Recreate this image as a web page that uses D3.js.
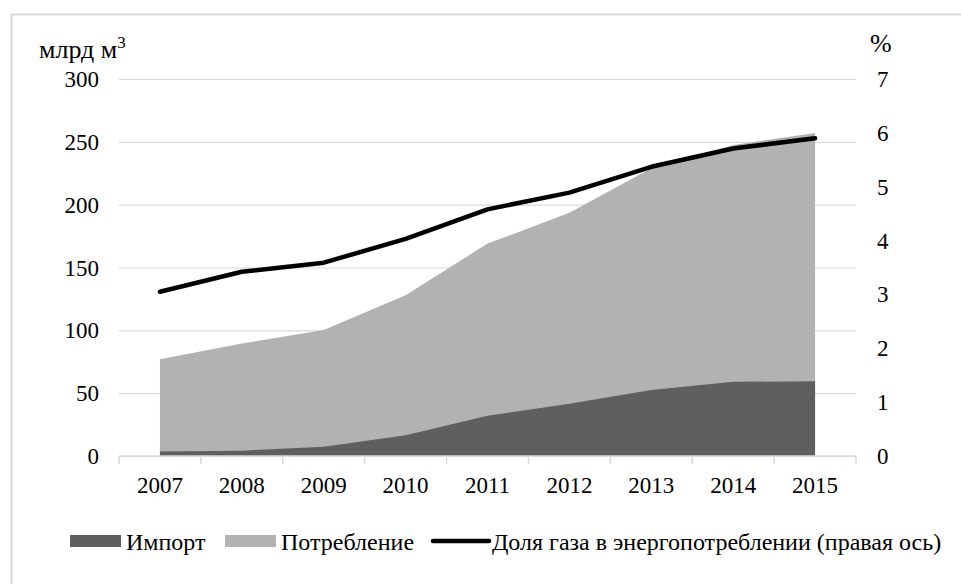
<!DOCTYPE html>
<html>
<head>
<meta charset="utf-8">
<script src="https://cdn.jsdelivr.net/npm/d3@7"></script>
<style>
  body { margin: 0; background: #fff; }
  .grid line { stroke: #d9d9d9; stroke-width: 1.2; }
  .grid path { display: none; }
</style>
</head>
<body>
<svg></svg>
<script>
var years = ["2007", "2008", "2009", "2010", "2011", "2012", "2013", "2014", "2015"];
var importVals = [3.5, 4.2, 7.4, 16.5, 32, 41.5, 52.5, 59, 59.5];
var consumption = [77, 89.5, 100.3, 128, 169, 193.5, 229, 247.5, 257];
var gasShare = [3.05, 3.42, 3.59, 4.03, 4.58, 4.89, 5.37, 5.71, 5.9];
var leftTicks = [0, 50, 100, 150, 200, 250, 300];
var rightTicks = [0, 1, 2, 3, 4, 5, 6, 7];
var legendLabels = ["Импорт", "Потребление", "Доля газа в энергопотреблении (правая ось)"];

(function () {
  var width = 961, height = 584;
  var margin = {top: 79, right: 105, bottom: 128, left: 119};
  var plot_width = width - margin.left - margin.right;
  var plot_height = height - margin.top - margin.bottom;
  var font = "'Liberation Serif', 'Times New Roman', Times, serif";

  var svg = d3.select("svg")
    .attr("width", width).attr("height", height)
    .attr("font-family", font)
    .attr("font-size", 23)
    .attr("fill", "#000");

  // outer frame (right and bottom edges fall outside the picture)
  svg.append("rect")
    .attr("x", 11.5).attr("y", 14.5)
    .attr("width", 970).attr("height", 600)
    .attr("fill", "none")
    .attr("stroke", "#d9d9d9")
    .attr("stroke-width", 2);

  var g = svg.append("g").attr("transform", "translate(" + margin.left + "," + margin.top + ")");

  var x = d3.scaleBand().domain(years).range([0, plot_width]);
  var y = d3.scaleLinear().domain([0, 300]).range([plot_height, 0]);
  var y2 = d3.scaleLinear().domain([0, 7]).range([plot_height, 0]);
  var cx = function (d, i) { return x(years[i]) + x.bandwidth() / 2; };

  // gridlines
  g.append("g")
    .attr("class", "grid")
    .call(d3.axisLeft(y).tickValues(leftTicks).tickSize(-plot_width).tickFormat(""));

  var area = d3.area()
    .x(cx)
    .y0(plot_height)
    .y1(function (d) { return y(d); });

  g.append("path")
    .datum(consumption)
    .attr("fill", "#b2b2b2")
    .attr("d", area);

  g.append("path")
    .datum(importVals)
    .attr("fill", "#5f5f5f")
    .attr("d", area);

  var line = d3.line()
    .x(cx)
    .y(function (d) { return y2(d); });

  g.append("path")
    .datum(gasShare)
    .attr("fill", "none")
    .attr("stroke", "#000")
    .attr("stroke-width", 4.5)
    .attr("stroke-linejoin", "round")
    .attr("stroke-linecap", "round")
    .attr("d", line);

  // x axis: baseline plus ticks at category boundaries
  var xAxis = g.append("g").attr("transform", "translate(0," + plot_height + ")");
  xAxis.append("line")
    .attr("x1", 0).attr("x2", plot_width)
    .attr("stroke", "#d9d9d9").attr("stroke-width", 1.5);
  xAxis.selectAll(".tk")
    .data(years.concat(["end"]))
    .enter().append("line")
    .attr("x1", function (d, i) { return i * x.step(); })
    .attr("x2", function (d, i) { return i * x.step(); })
    .attr("y1", 0).attr("y2", 8)
    .attr("stroke", "#d9d9d9").attr("stroke-width", 1.5);
  xAxis.selectAll(".lbl")
    .data(years)
    .enter().append("text")
    .attr("x", cx)
    .attr("y", 37)
    .attr("text-anchor", "middle")
    .text(function (d) { return d; });

  // left axis labels
  g.append("g")
    .selectAll("text")
    .data(leftTicks)
    .enter().append("text")
    .attr("x", -20)
    .attr("y", function (d) { return y(d); })
    .attr("dy", "0.35em")
    .attr("text-anchor", "end")
    .text(function (d) { return d; });

  // right axis labels
  g.append("g")
    .selectAll("text")
    .data(rightTicks)
    .enter().append("text")
    .attr("x", plot_width + 21)
    .attr("y", function (d) { return y2(d); })
    .attr("dy", "0.35em")
    .attr("text-anchor", "start")
    .text(function (d) { return d; });

  // axis titles
  var t = svg.append("text")
    .attr("x", 39).attr("y", 58)
    .attr("font-size", 26)
    .text("млрд м");
  t.append("tspan")
    .attr("dy", -10)
    .attr("font-size", 17)
    .text("3");

  svg.append("text")
    .attr("x", 870).attr("y", 52)
    .attr("font-size", 26)
    .text("%");

  // legend
  var lg = svg.append("g").attr("font-size", 24);
  lg.append("rect").attr("x", 70).attr("y", 535).attr("width", 51).attr("height", 12).attr("fill", "#5f5f5f");
  lg.append("text").attr("x", 126).attr("y", 550).text(legendLabels[0]);
  lg.append("rect").attr("x", 225).attr("y", 535).attr("width", 51).attr("height", 12).attr("fill", "#b2b2b2");
  lg.append("text").attr("x", 281).attr("y", 550).text(legendLabels[1]);
  lg.append("line").attr("x1", 433).attr("x2", 489).attr("y1", 541).attr("y2", 541)
    .attr("stroke", "#000").attr("stroke-width", 4.5).attr("stroke-linecap", "round");
  lg.append("text").attr("x", 492).attr("y", 550).text(legendLabels[2]);
})();
</script>
</body>
</html>
